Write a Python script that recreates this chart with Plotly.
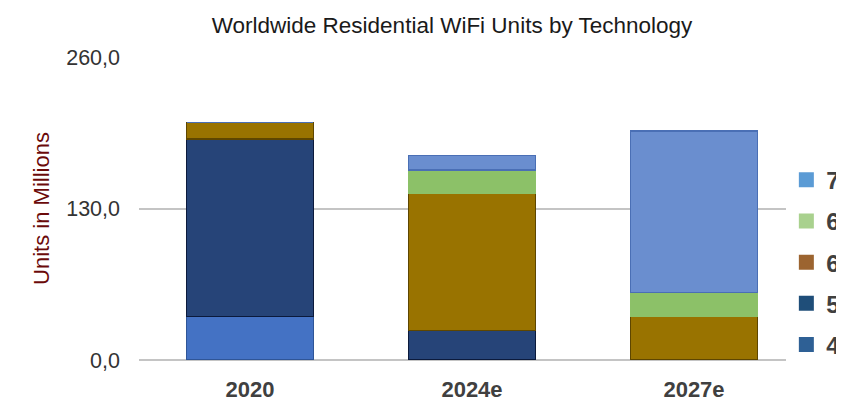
import plotly.graph_objects as go

years = ["2020", "2024e", "2027e"]
tech = ["4", "5", "6", "6E", "7"]
wifi4 = [37.3, 0, 0]
wifi5 = [153.0, 25.2, 0]
wifi6 = [14.0, 118.3, 37.9]
wifi6e = [0, 20.1, 20.4]
wifi7 = [0, 12.3, 138.9]
y_ticks = [0, 130, 260]

fills = ["#4472C4", "#264478", "#997300", "#8CC168", "#6A8ECF"]
edges = ["#2F5597", "#0B1A3C", "#5E4600", "#8CC168", "#4A6FB5"]
# the legend swatches in the original use slightly different shades
swatches = ["#2E6095", "#1F4E79", "#9C6430", "#A9D18E", "#5B9BD5"]

fig = go.Figure()
for i, (name, vals) in enumerate(zip(tech, [wifi4, wifi5, wifi6, wifi6e, wifi7])):
    fig.add_trace(go.Bar(
        x=years, y=vals, name=name, showlegend=False,
        marker=dict(color=fills[i], line=dict(color=edges[i], width=1.5)),
    ))
for i, name in enumerate(tech):
    fig.add_trace(go.Scatter(
        x=[None], y=[None], mode="markers", name=name,
        legendgroup=name, legendrank=10 - i,
        marker=dict(symbol="square", size=15, color=swatches[i]),
    ))

# the page body has an 8px margin, so the figure is offset by 8px right/down
font = "Liberation Sans, Arial, sans-serif"
fig.update_layout(
    width=844, height=402,
    barmode="stack", bargap=0.43,
    separators=",.",
    plot_bgcolor="white", paper_bgcolor="white",
    margin=dict(l=131, r=47, t=49, b=50, autoexpand=False),
    font=dict(family=font, color="#333333"),
    title=dict(text="Worldwide Residential WiFi Units by Technology",
               x=0.47, xref="paper", xanchor="center",
               y=0.958, yref="container", yanchor="middle",
               font=dict(size=22.5, color="#1a1a1a")),
    xaxis=dict(tickfont=dict(size=22, color="#404040", family=font, weight="bold"),
               ticklabelstandoff=14, showline=False),
    yaxis=dict(range=[0, 260.8], tickvals=y_ticks, tickformat=".1f",
               tickfont=dict(size=21.5, color="#333333"), ticklabelstandoff=18,
               showgrid=True, gridcolor="#c4c4c4", gridwidth=1.5,
               zeroline=True, zerolinecolor="#c4c4c4", zerolinewidth=1.5,
               title=dict(text="Units in Millions", standoff=10,
                          font=dict(size=22, color="#6B0A0A"))),
    legend=dict(x=0.972, xanchor="left", y=0.323, yanchor="middle",
                traceorder="grouped", tracegroupgap=7,
                font=dict(size=24, color="#404040", weight="bold")),
)

fig.write_html("out.html")
